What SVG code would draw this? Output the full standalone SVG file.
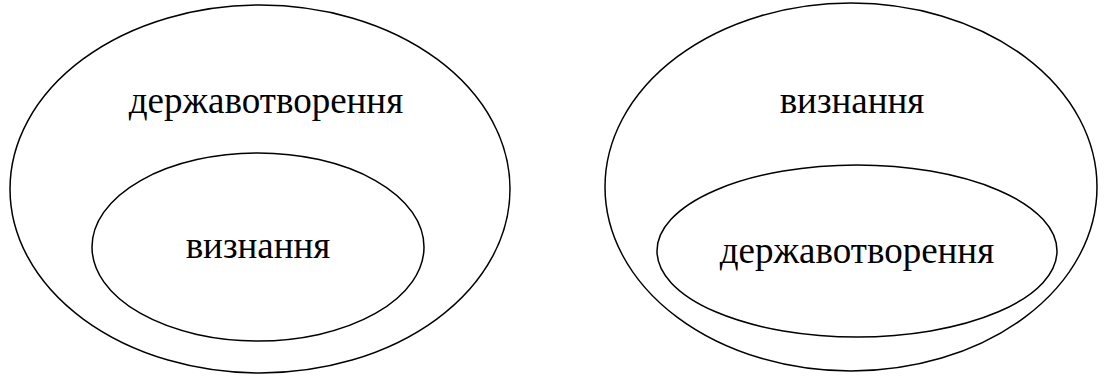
<svg xmlns="http://www.w3.org/2000/svg" width="1105" height="378" viewBox="0 0 1105 378">
<style>
.e{fill:none;stroke:#000;stroke-width:1.5}
.t{font-family:"Liberation Serif","Times New Roman",serif;font-size:37px;fill:#000;text-anchor:middle}
</style>
<rect width="1105" height="378" fill="#fff"/>
<g id="left-outer"><ellipse class="e" cx="260" cy="189" rx="250" ry="184"/><text class="t" x="266" y="113">державотворення</text></g>
<g id="left-inner"><ellipse class="e" cx="258" cy="247" rx="166" ry="94"/><text class="t" x="258" y="258">визнання</text></g>
<g id="right-outer"><ellipse class="e" cx="851" cy="187" rx="246" ry="184"/><text class="t" x="852" y="113">визнання</text></g>
<g id="right-inner"><ellipse class="e" cx="857" cy="251" rx="200" ry="86"/><text class="t" x="857" y="263">державотворення</text></g>
<g id="connectors"/>
</svg>
